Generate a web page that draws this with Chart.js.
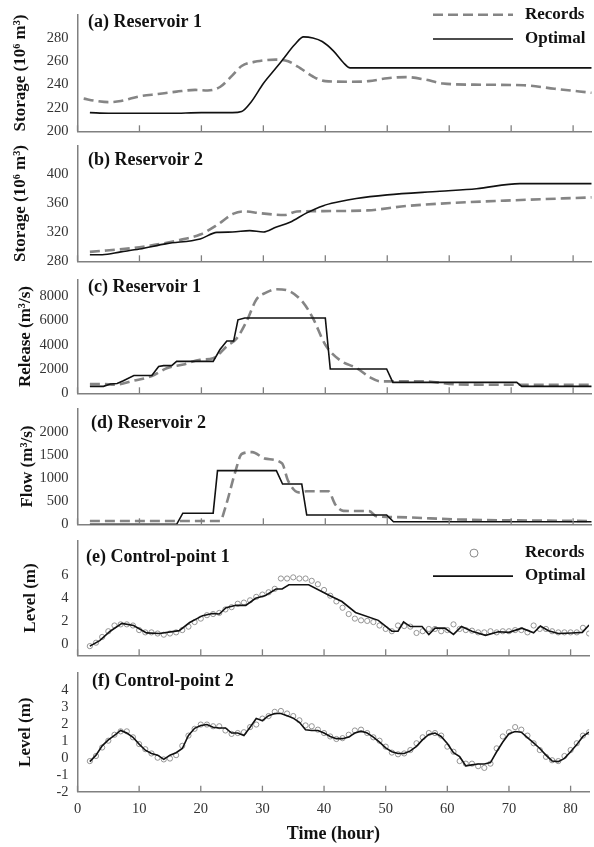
<!DOCTYPE html>
<html>
<head>
<meta charset="utf-8">
<script src="https://cdn.jsdelivr.net/npm/chart.js@4.4.1/dist/chart.umd.min.js"></script>
<style>
  body { margin: 0; background: #fff; width: 594px; height: 847px; position: relative; overflow: hidden; }
  canvas { position: absolute; left: 0; }
</style>
</head>
<body>
<canvas id="pa"></canvas>
<canvas id="pb"></canvas>
<canvas id="pc"></canvas>
<canvas id="pd"></canvas>
<canvas id="pe"></canvas>
<canvas id="pf"></canvas>
<script>
const timeTicks = [0, 10, 20, 30, 40, 50, 60, 70, 80];

// (a) Reservoir 1 storage (10^6 m3)
const hoursA_rec = [1, 3, 5, 7, 10, 13, 16, 19, 21, 23, 25, 26.5, 29, 32, 34, 36, 38, 40, 44, 47, 50, 53, 56, 59, 64, 72, 77, 83];
const storA_rec  = [228, 226, 225, 226, 230, 232, 234, 235.5, 235, 238, 248, 256, 260, 261.5, 260, 254, 247, 243, 242.5, 243, 245.5, 246.5, 244.5, 241, 240, 239.5, 236.5, 233];
const hoursA_opt = [2, 5, 15, 20, 25, 26.5, 28, 30, 32, 33.2, 35, 36.5, 38, 39.5, 41.3, 42.9, 44, 83];
const storA_opt  = [216, 215.5, 215.5, 216, 216, 217, 225, 241, 254, 262, 274, 281, 280, 277, 269, 259, 254.4, 254.4];

// (b) Reservoir 2 storage (10^6 m3)
const hoursB_rec = [2, 10, 16.5, 19.8, 22.5, 25.2, 26.8, 29.6, 33.4, 35.4, 39.7, 46.8, 53, 61, 69, 83];
const storB_rec  = [293, 299.5, 309.5, 317, 330, 346, 349, 346.5, 344, 349, 349.5, 350.5, 356.5, 361, 364, 368.5];
const hoursB_opt = [2, 4, 7, 10, 14.4, 19.8, 22.5, 25, 27.8, 30, 32, 34.3, 37, 39.7, 42, 45, 50, 58.5, 64.4, 71.4, 83];
const storB_opt  = [289, 289, 293, 297, 304.5, 311, 320, 320.5, 322.5, 320.5, 327, 334, 347, 357, 362, 367, 372, 377, 380.5, 387.5, 387.5];

// (c) Reservoir 1 release (m3/s)
const hoursC_rec = [2, 4, 6, 9, 12, 14.4, 17.1, 19.8, 21.9, 24.1, 25.7, 27.3, 28.9, 30.5, 32.1, 34.3, 36.4, 38, 40, 42.4, 45.1, 47.3, 48.9, 55.9, 61.3, 71, 83];
const relC_rec   = [770, 770, 700, 1030, 1420, 2065, 2375, 2760, 2890, 3870, 4520, 5930, 7740, 8300, 8565, 8390, 7480, 6190, 4000, 2710, 2065, 1290, 980, 980, 730, 700, 700];
const hoursC_opt = [2, 4.2, 5.3, 6.4, 7.4, 9.1, 12, 13.1, 13.9, 15.2, 16, 21.9, 23, 24.1, 25.2, 25.9, 27, 40, 40.8, 49.9, 50.9, 70.9, 71.7, 83];
const relC_opt   = [570, 570, 770, 800, 1030, 1470, 1470, 2200, 2280, 2280, 2630, 2630, 3600, 4300, 4300, 6050, 6200, 6200, 2000, 2000, 900, 900, 570, 570];

// (d) Reservoir 2 flow (m3/s)
const hoursD_rec = [2, 23, 23.9, 25.5, 26.5, 28.2, 30.3, 33, 34, 35.7, 37, 40.5, 41.6, 42.9, 47.1, 48.2, 51.6, 61.3, 83];
const flowD_rec  = [70, 70, 380, 1150, 1520, 1560, 1420, 1320, 940, 690, 715, 715, 430, 290, 285, 175, 155, 105, 70];
const hoursD_opt = [2, 16, 17, 21.9, 22.6, 32.1, 33.1, 36.2, 37, 49.9, 51, 83];
const flowD_opt  = [0, 0, 240, 240, 1160, 1160, 870, 870, 200, 200, 55, 55];

// (e) Control-point 1 level (m)
const hoursEF = Array.from({ length: 82 }, (_, i) => i + 2);
const levelE_rec = [-0.2, 0.1, 0.6, 1.1, 1.6, 1.7, 1.7, 1.6, 1.2, 1.0, 1.0, 0.9, 0.8, 0.9, 1.0, 1.2, 1.5, 1.9, 2.2, 2.5,
  2.6, 2.7, 3.0, 3.2, 3.5, 3.6, 3.8, 4.1, 4.3, 4.5, 4.8, 5.7, 5.7, 5.8, 5.7, 5.7, 5.5, 5.2, 4.7, 4.2,
  3.7, 3.15, 2.6, 2.2, 2.05, 2.0, 1.9, 1.6, 1.3, 1.1, 1.6, 1.55, 1.5, 0.95, 1.1, 1.3, 1.3, 1.1, 1.2, 1.7,
  1.3, 1.2, 1.15, 1.0, 1.0, 1.1, 1.0, 1.1, 1.1, 1.2, 1.2, 1.0, 1.6, 1.3, 1.3, 1.1, 1.0, 1.0, 1.0, 1.0,
  1.4, 0.9];
const hoursE_opt = [2, 3.6, 5.3, 7.2, 9.1, 11.2, 13.3, 16.5, 18.2, 20.3, 21.9, 23, 24.1, 25.7, 27.3, 28.9, 30.5, 32.2, 33.2, 34.3, 37.5,
  40.8, 42.9, 45.1, 48.8, 51, 52, 52.9, 54, 55.9, 57, 58, 59.6, 61, 62.3, 64, 66.2, 68.3, 70, 72.1, 74, 75.1, 76.4, 78, 80.2, 81.9, 83];
const levelE_opt = [-0.2, 0.28, 1.1, 1.78, 1.6, 0.96, 0.9, 1.15, 1.86, 2.46, 2.65, 2.6, 3.15, 3.36, 3.36, 3.97, 4.22, 4.79, 4.79, 5.15, 5.15,
  4.24, 3.69, 2.74, 2.05, 1.1, 1.1, 1.92, 1.51, 1.51, 0.82, 1.37, 1.37, 0.82, 1.51, 1.1, 0.74, 1.05, 1.0, 1.37, 0.96, 1.56, 1.15, 0.9, 0.95, 1.0, 1.64];

// (f) Control-point 2 level (m)
const levelF_rec = [-0.2, 0.1, 0.6, 1.0, 1.35, 1.55, 1.55, 1.2, 0.8, 0.5, 0.25, 0.0, -0.1, -0.05, 0.15, 0.7, 1.3, 1.7, 1.95, 1.95,
  1.85, 1.85, 1.6, 1.4, 1.45, 1.5, 1.8, 1.95, 2.3, 2.45, 2.7, 2.75, 2.6, 2.45, 2.2, 1.9, 1.85, 1.65, 1.45, 1.25,
  1.1, 1.15, 1.35, 1.6, 1.65, 1.45, 1.2, 1.0, 0.65, 0.3, 0.2, 0.25, 0.45, 0.85, 1.2, 1.45, 1.45, 1.3, 0.65, 0.35,
  -0.2, -0.35, -0.35, -0.5, -0.6, -0.35, 0.55, 1.25, 1.5, 1.8, 1.65, 1.3, 0.85, 0.45, 0.05, -0.15, -0.2, 0.1, 0.45, 0.85,
  1.3, 1.5];
const levelF_opt = [-0.23, 0.15, 0.7, 1.05, 1.31, 1.6, 1.45, 1.2, 0.8, 0.44, 0.25, 0.15, -0.1, 0.15, 0.29, 0.54, 1.31, 1.73, 1.89, 1.95,
  1.79, 1.75, 1.75, 1.45, 1.45, 1.31, 1.79, 2.31, 2.18, 2.47, 2.6, 2.6, 2.47, 2.33, 2.08, 1.64, 1.6, 1.6, 1.45, 1.25,
  1.12, 1.12, 1.21, 1.45, 1.56, 1.45, 1.21, 0.92, 0.58, 0.35, 0.25, 0.25, 0.4, 0.67, 1.06, 1.37, 1.45, 1.25, 0.83, 0.29,
  0.06, -0.48, -0.42, -0.37, -0.37, -0.29, 0.35, 0.92, 1.41, 1.54, 1.5, 1.18, 0.87, 0.54, 0.15, -0.19, -0.23, -0.04, 0.35, 0.77,
  1.25, 1.5];

const FONT = '"Liberation Serif", "Times New Roman", serif';
const LEFT = 77.5;
const RIGHT_PAD = 2.3;
const PAD = 14;

function pts(xs, ys) {
  return xs.map((x, i) => ({ x: x, y: ys[i] }));
}

const recStyle = { borderColor: '#858585', borderWidth: 2.6, borderDash: [10, 5], pointRadius: 0, fill: false, cubicInterpolationMode: 'monotone' };
const optSmooth = { borderColor: '#111', borderWidth: 1.6, pointRadius: 0, fill: false, cubicInterpolationMode: 'monotone' };
const optStep = { borderColor: '#111', borderWidth: 1.6, pointRadius: 0, fill: false, tension: 0 };
const recDots = { showLine: false, pointRadius: 2.6, pointStyle: 'circle', borderColor: '#8a8a8a', backgroundColor: '#fff', pointBorderWidth: 0.9, borderWidth: 0.9 };

const overlay = {
  id: 'overlay',
  afterDraw(chart, args, o) {
    const ctx = chart.ctx;
    const dy = o.offset;
    const xs = chart.scales.x;
    const area = chart.chartArea;
    ctx.save();
    // inward tick marks on the time axis
    ctx.strokeStyle = '#808080';
    ctx.lineWidth = 1.3;
    timeTicks.forEach(v => {
      const x = xs.getPixelForValue(v);
      ctx.beginPath();
      ctx.moveTo(x, area.bottom);
      ctx.lineTo(x, area.bottom - 6);
      ctx.stroke();
    });
    ctx.fillStyle = '#111';
    ctx.textBaseline = 'middle';
    ctx.font = 'bold 18px ' + FONT;
    ctx.fillText(o.label, o.labelX, o.labelY - dy);
    (o.legend || []).forEach(item => {
      const ds = chart.data.datasets[item.ds];
      const y = item.y - dy;
      ctx.save();
      if (ds.showLine === false) {
        ctx.beginPath();
        ctx.arc(474, y, 4, 0, Math.PI * 2);
        ctx.fillStyle = '#fff';
        ctx.fill();
        ctx.strokeStyle = ds.borderColor;
        ctx.lineWidth = 1;
        ctx.stroke();
      } else {
        ctx.strokeStyle = ds.borderColor;
        ctx.lineWidth = ds.borderWidth;
        ctx.setLineDash(ds.borderDash || []);
        ctx.beginPath();
        ctx.moveTo(433, y);
        ctx.lineTo(513, y);
        ctx.stroke();
      }
      ctx.restore();
      ctx.font = 'bold 17px ' + FONT;
      ctx.fillText(item.text, 525, y);
    });
    ctx.restore();
  }
};

function yAxis(min, max, ticks, title, titlePad) {
  return {
    min: min, max: max,
    afterBuildTicks: s => { s.ticks = ticks.map(v => ({ value: v })); },
    afterFit: s => { s.width = LEFT; },
    grid: { display: false, drawTicks: false },
    border: { color: '#808080', width: 1.5 },
    ticks: { color: '#333', font: { family: FONT, size: 14.5 }, padding: 9, autoSkip: false, callback: v => String(v) },
    title: { display: true, text: title, color: '#111', font: { family: FONT, size: 17, weight: 'bold' }, padding: { top: titlePad, bottom: 0 } }
  };
}

function xAxis(last, xh) {
  return {
    type: 'linear', min: 0, max: 83,
    afterBuildTicks: s => { s.ticks = timeTicks.map(v => ({ value: v })); },
    afterFit: s => { s.height = xh; },
    grid: { display: false, drawTicks: false },
    border: { color: '#808080', width: 1.5 },
    ticks: { display: last, color: '#333', font: { family: FONT, size: 14.5 }, padding: 9, maxRotation: 0, autoSkip: false, callback: v => String(v) },
    title: { display: last, text: 'Time (hour)', color: '#111', font: { family: FONT, size: 18, weight: 'bold' }, padding: { top: 0, bottom: 2 } }
  };
}

function panel(id, top, bottom, y, datasets, extra, last) {
  const c = document.getElementById(id);
  const xh = last ? 847 - bottom : PAD;
  const h = bottom - top + PAD + xh;
  c.width = 594;
  c.height = Math.round(h);
  c.style.top = (top - PAD) + 'px';
  extra.offset = top - PAD;
  new Chart(c, {
    type: 'line',
    data: { datasets: datasets },
    options: {
      responsive: false,
      animation: false,
      maintainAspectRatio: false,
      parsing: false,
      layout: { padding: { top: PAD, right: RIGHT_PAD, left: 0, bottom: 0 } },
      plugins: { legend: { display: false }, tooltip: { enabled: false }, overlay: extra },
      scales: { x: xAxis(last, xh), y: y }
    },
    plugins: [overlay]
  });
}

panel('pa', 11.3, 135, yAxis(200, 300, [200, 220, 240, 260, 280], 'Storage (10\u2076 m\u00b3)', 10), [
  Object.assign({ label: 'Optimal', data: pts(hoursA_opt, storA_opt) }, optSmooth),
  Object.assign({ label: 'Records', data: pts(hoursA_rec, storA_rec) }, recStyle)
], { label: '(a) Reservoir 1', labelX: 88, labelY: 23, legend: [{ text: 'Records', y: 15, ds: 1 }, { text: 'Optimal', y: 39.3, ds: 0 }] }, false);

panel('pb', 142, 265, yAxis(280, 440, [280, 320, 360, 400], 'Storage (10\u2076 m\u00b3)', 10), [
  Object.assign({ label: 'Optimal', data: pts(hoursB_opt, storB_opt) }, optSmooth),
  Object.assign({ label: 'Records', data: pts(hoursB_rec, storB_rec) }, recStyle)
], { label: '(b) Reservoir 2', labelX: 88, labelY: 160 }, false);

panel('pc', 276, 396.7, yAxis(0, 9350, [0, 2000, 4000, 6000, 8000], 'Release (m\u00b3/s)', 15), [
  Object.assign({ label: 'Optimal', data: pts(hoursC_opt, relC_opt) }, optStep),
  Object.assign({ label: 'Records', data: pts(hoursC_rec, relC_rec) }, recStyle)
], { label: '(c) Reservoir 1', labelX: 88, labelY: 287 }, false);

panel('pd', 405, 528, yAxis(0, 2500, [0, 500, 1000, 1500, 2000], 'Flow (m\u00b3/s)', 17), [
  Object.assign({ label: 'Optimal', data: pts(hoursD_opt, flowD_opt) }, optStep),
  Object.assign({ label: 'Records', data: pts(hoursD_rec, flowD_rec) }, recStyle)
], { label: '(d) Reservoir 2', labelX: 91, labelY: 423 }, false);

panel('pe', 536.9, 659, yAxis(-1, 9, [0, 2, 4, 6], 'Level (m)', 20), [
  Object.assign({ label: 'Optimal', data: pts(hoursE_opt, levelE_opt) }, optStep),
  Object.assign({ label: 'Records', data: pts(hoursEF, levelE_rec) }, recDots)
], { label: '(e) Control-point 1', labelX: 86, labelY: 557, legend: [{ text: 'Records', y: 553, ds: 1 }, { text: 'Optimal', y: 576, ds: 0 }] }, false);

panel('pf', 669.2, 791.7, yAxis(-2, 5, [-2, -1, 0, 1, 2, 3, 4], 'Level (m)', 15), [
  Object.assign({ label: 'Optimal', data: pts(hoursEF, levelF_opt) }, optStep),
  Object.assign({ label: 'Records', data: pts(hoursEF, levelF_rec) }, recDots)
], { label: '(f) Control-point 2', labelX: 92, labelY: 682 }, true);
</script>
</body>
</html>
